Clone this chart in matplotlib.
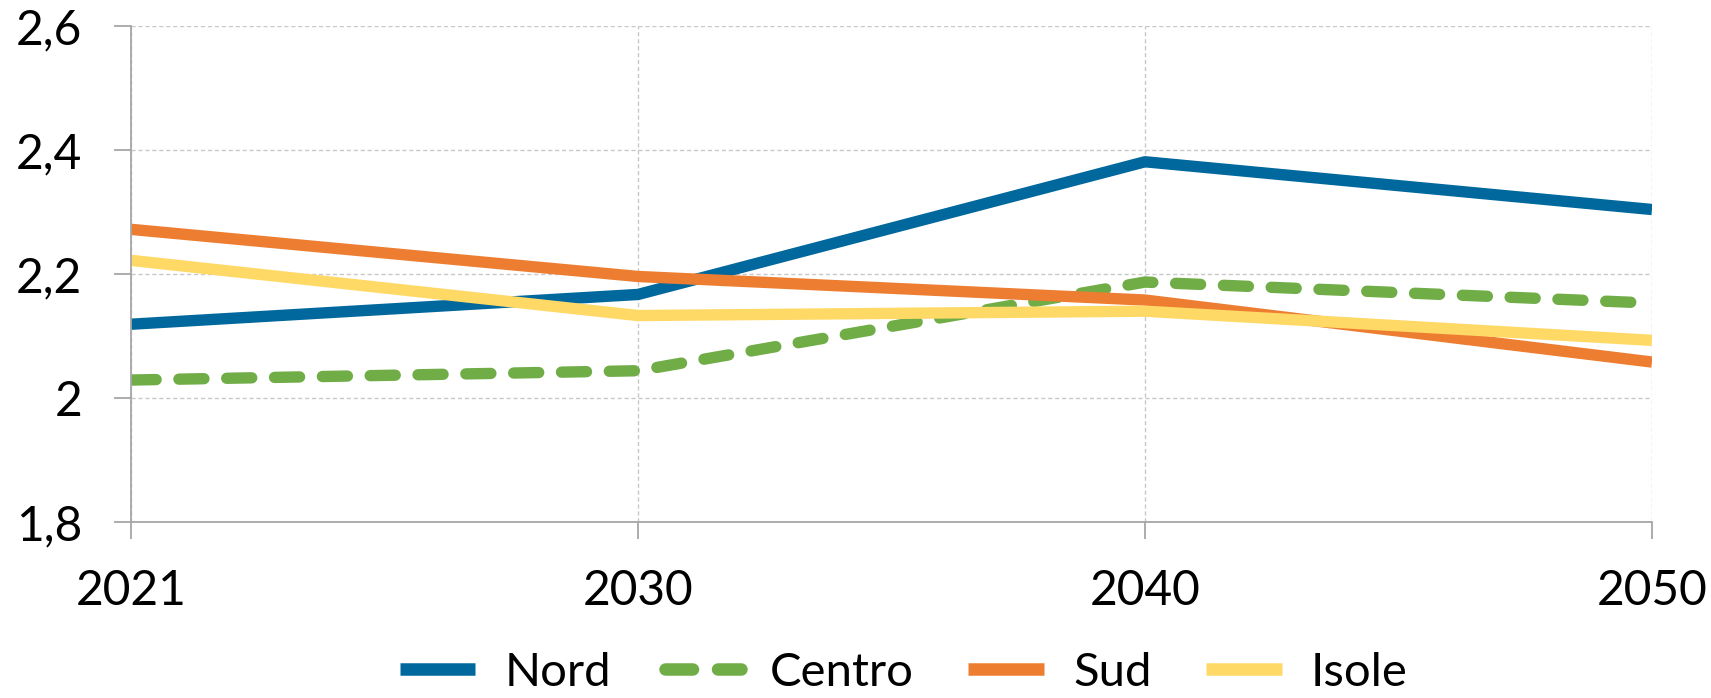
import matplotlib
matplotlib.use("Agg")
import matplotlib.pyplot as plt

# data
anni = ["2021", "2030", "2040", "2050"]
nord = [2.119, 2.167, 2.381, 2.304]
centro = [2.029, 2.044, 2.187, 2.153]
sud = [2.272, 2.196, 2.158, 2.058]
isole = [2.222, 2.133, 2.140, 2.093]

yticks = [1.8, 2.0, 2.2, 2.4, 2.6]
ylabels = ["1,8", "2", "2,2", "2,4", "2,6"]

plt.rcParams["font.family"] = ["Lato", "DejaVu Sans"]

fig = plt.figure(figsize=(17.11, 6.98), dpi=100)
ax = fig.add_axes([0.0766, 0.2521, 0.9655 - 0.0766, 0.9628 - 0.2521])

x = range(len(anni))
lw = 8.2
ax.plot(x, nord, color="#00689C", lw=lw, label="Nord", solid_capstyle="butt")
ax.plot(x, centro, color="#70AD47", lw=lw, label="Centro",
        dashes=(2.2, 2.0), dash_capstyle="round")
ax.plot(x, sud, color="#ED7D31", lw=lw, label="Sud", solid_capstyle="butt")
ax.plot(x, isole, color="#FFD966", lw=lw, label="Isole", solid_capstyle="butt")

ax.set_xlim(0, 3)
ax.set_ylim(1.8, 2.6)
ax.set_xticks(list(x))
ax.set_xticklabels(anni)
ax.set_yticks(yticks)
ax.set_yticklabels(ylabels)

ax.grid(True, color="#C8C8C8", linestyle=(0, (3, 2)), linewidth=1)
ax.set_axisbelow(True)
for s in ["top", "right"]:
    ax.spines[s].set_visible(False)
for s in ["left", "bottom"]:
    ax.spines[s].set_color("#A6A6A6")
    ax.spines[s].set_linewidth(1.3)

ax.tick_params(axis="both", colors="#A6A6A6", length=12, width=1.3,
               labelcolor="black", labelsize=34.5)
ax.tick_params(axis="y", pad=23)
ax.tick_params(axis="x", pad=22)

leg = ax.legend(loc="lower center", bbox_to_anchor=(0.508, -0.432), ncol=4,
                frameon=False, fontsize=34, handlelength=1.6,
                handletextpad=0.62, columnspacing=1.15)
for h in leg.get_lines():
    h.set_linewidth(9)

fig.savefig("out.png", dpi=100)
